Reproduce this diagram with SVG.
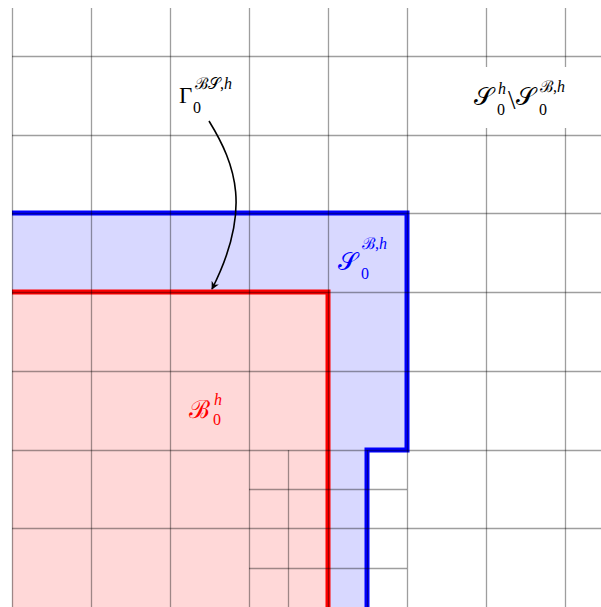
<svg xmlns="http://www.w3.org/2000/svg" width="601" height="607" viewBox="0 0 601 607">
<defs>
<style>
.grid{stroke:#000;stroke-opacity:0.38;stroke-width:1.3;fill:none}
.t{font-family:"Liberation Serif","DejaVu Serif",serif}
.cal{font-family:"Liberation Serif","DejaVu Serif",serif}
.it{font-family:"Liberation Serif","DejaVu Serif",serif;font-style:italic}
.big{font-size:25px}
.sm{font-size:16px}
</style>
<marker id="ah" viewBox="0 0 10 10" refX="9" refY="5" markerWidth="8" markerHeight="8" orient="auto" markerUnits="userSpaceOnUse">
<path d="M0,0 L10,5 L0,10 L3,5 Z" fill="#000"/>
</marker>
</defs>
<rect width="601" height="607" fill="#fff"/>
<g id="regionS">
<polygon points="12,213 407,213 407,450 367,450 367,607 12,607" fill="#d8d8ff"/>
<polyline points="12,213 407,213 407,450 367,450 367,607" fill="none" stroke="#0000ff" stroke-width="5"/>
</g>
<g id="regionB">
<polygon points="12,292 328,292 328,607 12,607" fill="#ffd8d8"/>
<polyline points="12,292 328,292 328,607" fill="none" stroke="#ff0000" stroke-width="5"/>
</g>
<g id="grid" class="grid">
<line x1="12.5" y1="8" x2="12.5" y2="607"/>
<line x1="91.5" y1="8" x2="91.5" y2="607"/>
<line x1="170.5" y1="8" x2="170.5" y2="607"/>
<line x1="249.5" y1="8" x2="249.5" y2="607"/>
<line x1="328.5" y1="8" x2="328.5" y2="607"/>
<line x1="407.5" y1="8" x2="407.5" y2="607"/>
<line x1="486.5" y1="8" x2="486.5" y2="607"/>
<line x1="565.5" y1="8" x2="565.5" y2="607"/>
<line x1="12" y1="56.5" x2="601" y2="56.5"/>
<line x1="12" y1="135.5" x2="601" y2="135.5"/>
<line x1="12" y1="213.5" x2="601" y2="213.5"/>
<line x1="12" y1="292.5" x2="601" y2="292.5"/>
<line x1="12" y1="371.5" x2="601" y2="371.5"/>
<line x1="12" y1="450.5" x2="601" y2="450.5"/>
<line x1="12" y1="528.5" x2="601" y2="528.5"/>
<line x1="288.5" y1="450" x2="288.5" y2="607"/>
<line x1="367.5" y1="450" x2="367.5" y2="607"/>
<line x1="249" y1="489.5" x2="407" y2="489.5"/>
<line x1="249" y1="568.5" x2="407" y2="568.5"/>
</g>
<g id="connectors">
<path d="M209,121 C236,165 252,210 212,289" fill="none" stroke="#000" stroke-width="1.6" marker-end="url(#ah)"/>
</g>
<g id="label-gamma">
<text class="t" font-size="23" x="179" y="103">Γ</text>
<text class="cal sm" x="195" y="89">ℬ𝒮,<tspan class="it">h</tspan></text>
<text class="t sm" x="193" y="113">0</text>
</g>
<g id="label-complement">
<rect x="468" y="67" width="106" height="61" fill="#fff"/>
<text class="cal big" x="474" y="105">𝒮</text>
<text class="it sm" x="498" y="94">h</text>
<text class="t sm" x="497" y="115">0</text>
<text class="t" font-size="27" x="508" y="109">\</text>
<text class="cal big" x="516" y="105">𝒮</text>
<text class="cal sm" x="540" y="92">ℬ,<tspan class="it">h</tspan></text>
<text class="t sm" x="539" y="115">0</text>
</g>
<g id="label-SB" fill="#0000ff">
<text class="cal big" x="338" y="270">𝒮</text>
<text class="cal sm" x="362" y="249">ℬ,<tspan class="it">h</tspan></text>
<text class="t sm" x="361" y="279">0</text>
</g>
<g id="label-B" fill="#ff0000">
<text class="cal big" x="189" y="418">ℬ</text>
<text class="it sm" x="214" y="405">h</text>
<text class="t sm" x="213" y="425">0</text>
</g>
</svg>
